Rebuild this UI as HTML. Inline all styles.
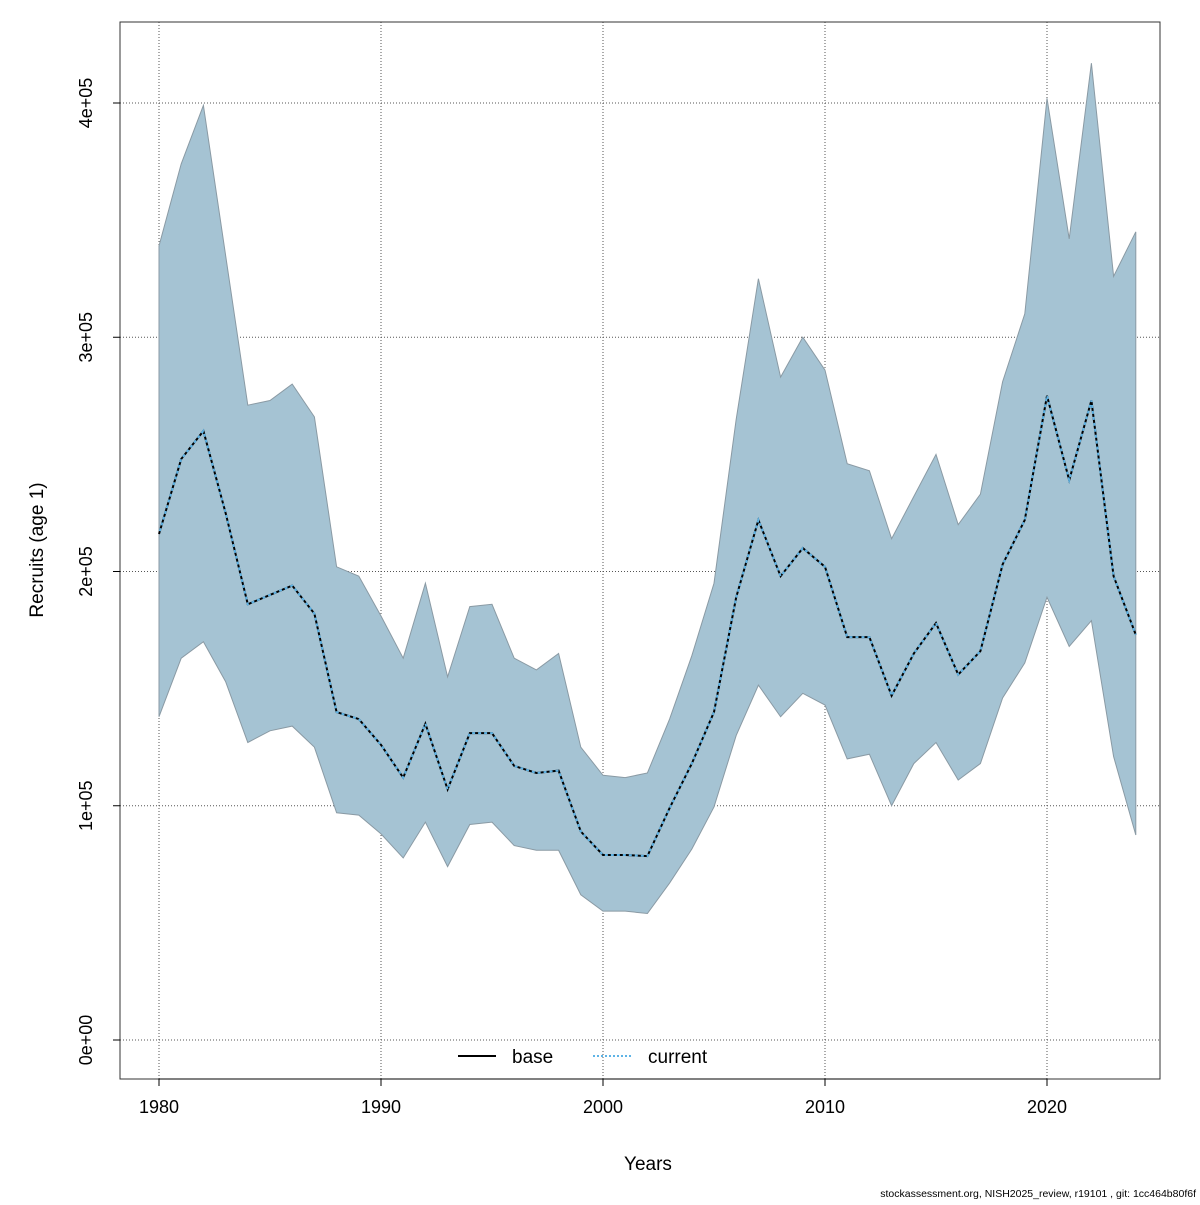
<!DOCTYPE html>
<html><head><meta charset="utf-8"><style>
html,body{margin:0;padding:0;background:#fff;}
svg text{font-family:"Liberation Sans",sans-serif;}
</style></head><body>
<svg id="chart" width="1200" height="1200" viewBox="0 0 1200 1200" xmlns="http://www.w3.org/2000/svg"></svg>
<script>
const years=[1980,1981,1982,1983,1984,1985,1986,1987,1988,1989,1990,1991,1992,1993,1994,1995,1996,1997,1998,1999,2000,2001,2002,2003,2004,2005,2006,2007,2008,2009,2010,2011,2012,2013,2014,2015,2016,2017,2018,2019,2020,2021,2022,2023,2024];
const upper=[339,374,399,335,271,273,280,266,202,198,181,163,195,155,185,186,163,158,165,125,113,112,114,137,164,195,265,325,283,300,286,246,243,214,232,250,220,233,281,310,402,342,417,326,345];
const current=[216,248,260,225,186,190,194,182,140,137,126,112,135,107,131,131,117,114,115,89,79,79,78.5,99,118,140,189,222,198,210,202,172,172,147,165,178,156,166,203,222,275,239,273,198,173];
const lower=[138,163,170,153,127,132,134,125,97,96,88,77.7,93,74,92,93,83,81,81,62,55,55,54,67,81.5,99.5,130,151.5,138,148,143,120,122,100,118,127,111,118,146,161,189,168,179,121,87.5];
const xTicks=[1980,1990,2000,2010,2020];
const yTicks=[0,100,200,300,400];
const yTickLabels=["0e+00","1e+05","2e+05","3e+05","4e+05"];

const NS="http://www.w3.org/2000/svg";
const svg=document.getElementById('chart');
const X=v=>159+(v-1980)*22.2;
const Y=v=>1040-v*2.3425;
function mk(tag,attrs,parent){const e=document.createElementNS(NS,tag);for(const k in attrs)e.setAttribute(k,attrs[k]);(parent||svg).appendChild(e);return e;}

xTicks.forEach(t=>{const l=mk('line',{x1:X(t),x2:X(t),y1:22,y2:1079,stroke:'#555','stroke-width':1,'stroke-dasharray':'1,2'});

});
yTicks.forEach(t=>{const l=mk('line',{x1:120,x2:1160,y1:Y(t),y2:Y(t),stroke:'#555','stroke-width':1,'stroke-dasharray':'1,2'});

});

let pts=years.map((y,i)=>X(y)+','+Y(upper[i]));
for(let i=years.length-1;i>=0;i--)pts.push(X(years[i])+','+Y(lower[i]));
const band=mk('polygon',{points:pts.join(' '),fill:'#a5c3d3',stroke:'#8a9aa4','stroke-width':1});



const lp=years.map((y,i)=>X(y)+','+Y(current[i])).join(' ');
const base=mk('polyline',{points:lp,fill:'none',stroke:'#000','stroke-width':2});


const cur=mk('polyline',{points:lp,fill:'none',stroke:'#5fb4e6','stroke-width':2,'stroke-dasharray':'3,3','stroke-dashoffset':3});



const box=mk('rect',{x:120,y:22,width:1040,height:1057,fill:'none',stroke:'#333','stroke-width':1});



mk('line',{x1:X(1980),x2:X(2020),y1:1079,y2:1079,stroke:'#000'});
xTicks.forEach(t=>{mk('line',{x1:X(t),x2:X(t),y1:1079,y2:1086,stroke:'#000'});
const tx=mk('text',{x:X(t),y:1113,'text-anchor':'middle','font-size':18});tx.textContent=t;

});
yTicks.forEach((t,i)=>{mk('line',{x1:113,x2:120,y1:Y(t),y2:Y(t),stroke:'#000'});
const tx=mk('text',{x:0,y:0,'text-anchor':'middle','font-size':18,transform:`translate(92,${Y(t)}) rotate(-90)`});tx.textContent=yTickLabels[i];

});

const xt=mk('text',{x:648,y:1170,'text-anchor':'middle','font-size':19});xt.textContent='Years';


const yt=mk('text',{x:0,y:0,'text-anchor':'middle','font-size':19,transform:'translate(43,550) rotate(-90)'});yt.textContent='Recruits (age 1)';



const lg=mk('g',{});


mk('line',{x1:458,x2:496,y1:1056,y2:1056,stroke:'#000','stroke-width':2},lg);
const t1=mk('text',{x:512,y:1063,'font-size':19},lg);t1.textContent='base';


mk('line',{x1:593,x2:631,y1:1056,y2:1056,stroke:'#5fb4e6','stroke-width':2,'stroke-dasharray':'2,2'},lg);
const t2=mk('text',{x:648,y:1063,'font-size':19},lg);t2.textContent='current';



const ft=mk('text',{x:1196,y:1197,'text-anchor':'end','font-size':10.5});ft.textContent='stockassessment.org, NISH2025_review, r19101 , git: 1cc464b80f6f';


</script>
</body></html>
